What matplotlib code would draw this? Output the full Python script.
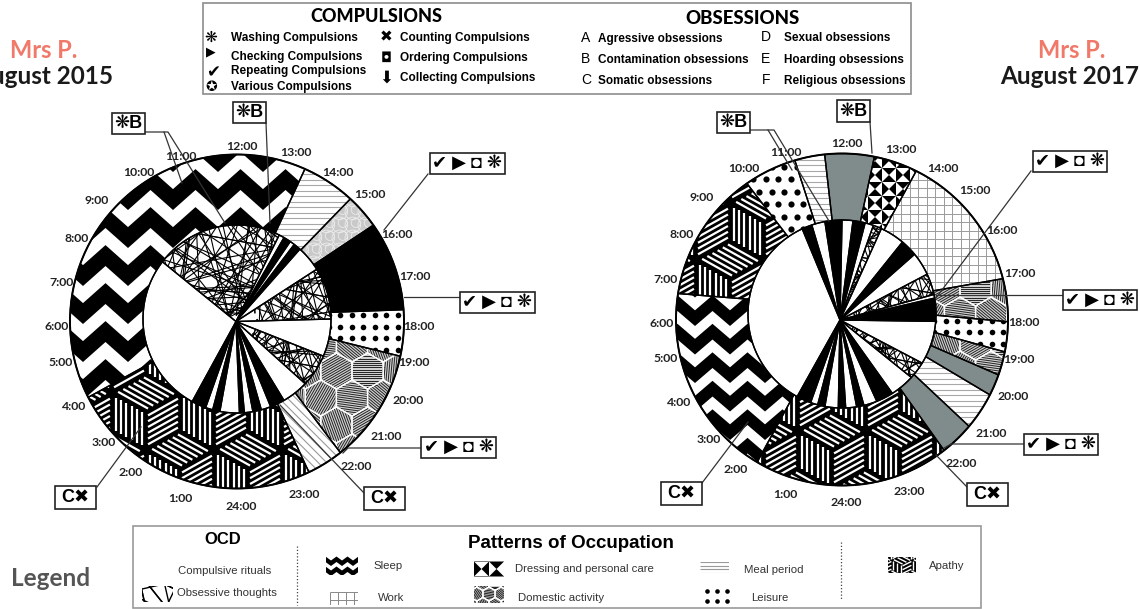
#Occupation wheels for Mrs P, 2015 vs 2017
import numpy as np
from matplotlib import pyplot as plt
from matplotlib.patches import Polygon, Rectangle, Circle
from matplotlib.collections import LineCollection, PolyCollection, PatchCollection

#Hours on the clock, 12:00 on top, 24:00 at the bottom, hours past 24 wrap to 1:00 etc
hour_labels = ['12:00','13:00','14:00','15:00','16:00','17:00','18:00','19:00','20:00','21:00','22:00','23:00',
               '24:00','1:00','2:00','3:00','4:00','5:00','6:00','7:00','8:00','9:00','10:00','11:00']
label_x = [242,296,338,370,397,415,419,414,408,386,356,304,241,180,131,104,74,61,57,61,77,97,139,181]
label_y = [147,153,172,194,234,277,326,363,400,437,467,495,506,498,473,443,406,362,327,283,238,201,172,156]

#Outer ring, occupation, edges in hours and what fills each piece
ring15_edges = [4.2,13.6,14.85,15.65,17.73,18.8,21.45,22.3,28.2]
ring15_kinds = ['sleep','meal','domestic_light','black','leisure','domestic','diag','apathy']
ring17_edges = [2.05,6.6,9.67,10.9,11.6,12.75,13.77,17.05,18.05,18.75,19.3,19.8,20.67,21.47,26.05]
ring17_kinds = ['sleep','apathy','leisure2','meal','gray','dressing','work','domestic','leisure','domestic',
                'gray','meal','gray','apathy']

#Inner pie, OCD
pie15_edges = [1.9,8.5,13.78,14.0,14.3,14.5,14.8,15.87,18.0,19.55,20.9,22.0,22.6,23.0,23.35,23.7,23.9,24.7,25.0,25.3,25.9]
pie15_kinds = ['white','obs','white','black','white','black','white','obs','white','obs','white','black','white',
               'black','white','black','white','black','white','black']
pie17_edges = [1.9,10.33,10.75,11.3,12.0,12.45,12.95,13.3,13.65,14.67,15.37,16.33,17.2,17.35,18.3,20.1,20.83,21.84,
               22.55,23.1,23.4,23.85,24.15,24.7,25.0,25.3,25.9]
pie17_kinds = ['white','black','white','black','white','black','white','obs','white','black','white','obs','white',
               'black','white','obs','white','black','white','black','white','black','white','black','white','black']

top_left = ['Washing Compulsions','Checking Compulsions','Repeating Compulsions','Various Compulsions']
top_mid = ['Counting Compulsions','Ordering Compulsions','Collecting Compulsions']
obs_left = ['Agressive obsessions','Contamination obsessions','Somatic obsessions']
obs_right = ['Sexual obsessions','Hoarding obsessions','Religious obsessions']

fig = plt.figure(figsize=(11.4,6.09),dpi=100)
ax = fig.add_axes([0,0,1,1])
ax.set_xlim(0,1140)
ax.set_ylim(609,0)
ax.axis('off')
ax.autoscale(False)

def hour_xy(c,r,h):
    a = np.radians((np.asarray(h)-12)*15)
    return np.column_stack([c[0]+r*np.sin(a),c[1]-r*np.cos(a)])

def clipped(artist,clip):
    ax.add_collection(artist)
    artist.set_clip_path(clip)
    artist.set_zorder(clip.get_zorder()+0.1)

def lines(segs,clip,color='black',lw=1.0):
    clipped(LineCollection(segs,colors=color,linewidths=lw),clip)

def box_of(clip):
    xy = clip.get_xy()
    return xy[:,0].min(),xy[:,0].max(),xy[:,1].min(),xy[:,1].max()

def tex_chevron(clip,x0,y0,period,pitch,amp):
    x1,x2,y1,y2 = box_of(clip)
    xs = x0+period/2*np.arange(np.floor((x1-x0)/(period/2))-2,np.ceil((x2-x0)/(period/2))+3)
    odd = np.round((xs-x0)/(period/2)).astype(int)%2
    zig = -amp*odd
    polys = []
    for k in range(int((y1-y0)//pitch)-2,int((y2-y0)//pitch)+4):
        low = y0+k*pitch+zig
        polys.append(np.vstack([np.column_stack([xs,low]),np.column_stack([xs,low-pitch*0.55])[::-1]]))
    clipped(PolyCollection(polys,facecolors='black',edgecolors='none'),clip)

def tex_cubes(clip,ox,oy,hw,e,n=6,lw=1.6):
    x1,x2,y1,y2 = box_of(clip)
    clip.set_facecolor('black')
    segs = []
    for row in range(-14,15):
        cy = oy+row*1.5*e
        if cy<y1-2*e or cy>y2+2*e:
            continue
        for col in range(-14,15):
            cx = ox+(col*2+(row%2))*hw
            if cx<x1-2*hw or cx>x2+2*hw:
                continue
            c = np.array([cx,cy])
            faces = [(c+[-hw,-e/2],np.array([hw,e/2]),np.array([hw,-e/2])),
                     (c+[-hw,-e/2],np.array([0,e]),np.array([hw,e/2])),
                     (c+[0,e],np.array([hw,-e/2]),np.array([0,-e]))]
            for p,a,b in faces:
                for t in np.linspace(0.12,0.88,n):
                    segs.append([p+t*b+0.06*a,p+t*b+0.94*a])
    lines(segs,clip,'white',lw)

def tex_hex(clip,ox,oy,r,step=2.2):
    x1,x2,y1,y2 = box_of(clip)
    clip.set_facecolor('#d0d0d0')
    w = r*np.sqrt(3)
    segs = []
    outline = []
    angles = [8,95,150,40,120,0,70]
    for row in range(-14,15):
        cy = oy+row*1.5*r
        if cy<y1-2*r or cy>y2+2*r:
            continue
        for col in range(-14,15):
            cx = ox+(col+(row%2)/2)*w
            if cx<x1-2*r or cx>x2+2*r:
                continue
            ang = np.radians(angles[(col*3+row*2)%7])
            u = np.array([np.cos(ang),np.sin(ang)])
            v = np.array([-u[1],u[0]])
            R = 0.93*r
            for d in np.arange(-R,R,step):
                half = np.sqrt(R*R-d*d)
                segs.append([[cx,cy]+v*d-u*half,[cx,cy]+v*d+u*half])
            t = np.radians(30+60*np.arange(7))
            outline.append(np.column_stack([cx+r*np.cos(t),cy+r*np.sin(t)]))
    lines(segs,clip,'#222222',0.7)
    lines(outline,clip,'white',1.0)

def tex_hlines(clip,step=5.5,color='#a8a8a8',lw=0.8):
    x1,x2,y1,y2 = box_of(clip)
    lines([[[x1,y],[x2,y]] for y in np.arange(y1,y2,step)],clip,color,lw)

def tex_grid(clip,step=8.5,color='#9a9a9a',lw=0.7):
    x1,x2,y1,y2 = box_of(clip)
    segs = [[[x1,y],[x2,y]] for y in np.arange(y1,y2,step)]
    segs += [[[x,y1],[x,y2]] for x in np.arange(x1,x2,step)]
    lines(segs,clip,color,lw)

def tex_diag(clip,step=6,color='#999999',lw=0.8):
    x1,x2,y1,y2 = box_of(clip)
    h = y2-y1
    lines([[[x,y1],[x+h,y2]] for x in np.arange(x1-h,x2,step*1.4)],clip,color,lw)

def tex_dots(clip,step,r,stagger=False,xoff=0):
    x1,x2,y1,y2 = box_of(clip)
    xs,ys = [],[]
    for i,y in enumerate(np.arange(y1+step/2,y2,step)):
        off = step/2 if (stagger and i%2) else 0
        for x in np.arange(x1+off+xoff,x2+step,step):
            xs.append(x)
            ys.append(y)
    sc = ax.scatter(xs,ys,s=(2*r*0.72)**2,c='black',linewidths=0)
    sc.set_clip_path(clip)
    sc.set_zorder(clip.get_zorder()+0.1)

def tex_dressing(clip,s=14,ox=0,oy=0):
    x1,x2,y1,y2 = box_of(clip)
    polys = []
    for i in range(int((x1-ox)//s)-1,int((x2-ox)//s)+2):
        for j in range(int((y1-oy)//s)-1,int((y2-oy)//s)+2):
            a = np.array([ox+i*s,oy+j*s])
            pts = [a,a+[s,0],a+[s,s],a+[0,s]]
            m = a+[s/2,s/2]
            if (i+j)%2:
                polys += [[pts[0],pts[1],m],[pts[2],pts[3],m]]
            else:
                polys += [[pts[1],pts[2],m],[pts[3],pts[0],m]]
    clipped(PolyCollection(polys,facecolors='black',edgecolors='none'),clip)

def tex_obs(clip,n=70,lw=0.8):
    #Tangle of chords, stepped through the points by fixed rules
    xy = clip.get_xy()
    c = xy.mean(axis=0)
    x1,x2,y1,y2 = box_of(clip)
    radius = 0.62*max(x2-x1,y2-y1)+8
    t = 2*np.pi*np.arange(n)/n
    pts = np.column_stack([c[0]+radius*np.cos(t),c[1]+radius*np.sin(t)])
    segs = [[pts[i],pts[(i*i+17*i+9)%n]] for i in range(n)]
    segs += [[pts[i],pts[(i*7+23)%n]] for i in range(n)]
    lines(segs,clip,'black',lw)

def tex_light(clip,step=13):
    x1,x2,y1,y2 = box_of(clip)
    clip.set_facecolor('#c9c9c9')
    rings = []
    for x in np.arange(x1,x2,step):
        for y in np.arange(y1,y2,step):
            rings += [Circle((x,y),step*0.6),Circle((x+3,y-2),step*0.35)]
    clipped(PatchCollection(rings,facecolor='none',edgecolor='#ececec',linewidth=0.6),clip)

def fill_piece(poly,kind,patt,edge=True):
    clip = Polygon(poly,closed=True,fc='white',ec='none',zorder=2)
    ax.add_patch(clip)
    if kind=='black':
        clip.set_facecolor('black')
    elif kind=='gray':
        clip.set_facecolor('#808b8b')
    elif kind=='sleep':
        tex_chevron(clip,*patt['sleep'])
    elif kind=='apathy':
        tex_cubes(clip,*patt['apathy'])
    elif kind=='domestic':
        tex_hex(clip,*patt['hex'])
    elif kind=='domestic_light':
        tex_light(clip)
    elif kind=='meal':
        tex_hlines(clip)
    elif kind=='work':
        tex_grid(clip)
    elif kind=='diag':
        tex_diag(clip)
    elif kind=='leisure':
        tex_dots(clip,11.5,2.8)
    elif kind=='leisure2':
        tex_dots(clip,12.5,3.1,True)
    elif kind=='dressing':
        tex_dressing(clip)
    elif kind=='obs':
        tex_obs(clip)
    if edge:
        ax.add_patch(Polygon(poly,closed=True,fc='none',ec='black',lw=1.0,zorder=3))

def draw_wheel(c,c_in,c_pie,r_out,r_in,ring_edges,ring_kinds,pie_edges,pie_kinds,patt):
    for h0,h1,kind in zip(ring_edges[:-1],ring_edges[1:],ring_kinds):
        hs = np.linspace(h0,h1,max(int((h1-h0)*12),2))
        poly = np.vstack([hour_xy(c,r_out,hs),hour_xy(c_in,r_in,hs[::-1])])
        fill_piece(poly,kind,patt)
    for h0,h1,kind in zip(pie_edges[:-1],pie_edges[1:],pie_kinds):
        hs = np.linspace(h0,h1,max(int((h1-h0)*12),2))
        poly = np.vstack([[c_pie],hour_xy(c_in,r_in,hs)])
        fill_piece(poly,kind,patt)
    ax.add_patch(Circle(c,r_out,fc='none',ec='black',lw=1.4,zorder=4))

patt15 = {'sleep':(218,172,45,38,20),'apathy':(146,412,34,38),'hex':(352,398,18)}
patt17 = {'sleep':(730,440,35,28.5,15),'apathy':(832,450,34,38),'hex':(960,315,18)}
draw_wheel((237,321.5),(237,319),(236,321.5),167,94,ring15_edges,ring15_kinds,pie15_edges,pie15_kinds,patt15)
draw_wheel((842,319.5),(842,314),(840,320),166,94,ring17_edges,ring17_kinds,pie17_edges,pie17_kinds,patt17)

#Hour labels, 2017 wheel is the same layout moved over
for txt,x,y in zip(hour_labels,label_x,label_y):
    ax.text(x,y,txt,fontsize=8.8,family='Lato',weight='bold',color='#222222',ha='center',va='center',zorder=6)
    ax.text(x+605,y-3.5,txt,fontsize=8.8,family='Lato',weight='bold',color='#222222',ha='center',va='center',zorder=6)

def tag(x1,y1,x2,y2,txt,size=13):
    ax.add_patch(Rectangle((x1,y1),x2-x1,y2-y1,fc='white',ec='#222222',lw=1.2,zorder=7))
    ax.text((x1+x2)/2,(y1+y2)/2,txt,fontsize=size,family=['Liberation Sans','DejaVu Sans'],weight='bold',
            ha='center',va='center',zorder=8)

def leader(*pts,lw=0.9):
    p = np.array(pts)
    ax.plot(p[:,0],p[:,1],color='#333333',lw=lw,zorder=5)

marks = '\u2714 \u25b6 \u25d8 \u274b'
wash = '\u274bB'
count = 'C\u2716'

tag(112,113,145,134,wash)
tag(233,102,266,123,wash)
tag(430,153,505,174,marks)
tag(460,292,535,313,marks)
tag(421,437,496,458,marks)
tag(55,486,96,509,count)
tag(364,487,405,510,count)
leader((145,132),(168,132),(225,223))
leader((164,132),(182,183))
leader((266,123),(270,223))
leader((428,174),(384,230))
leader((460,297),(404,297))
leader((421,448),(348,448),(343,453))
leader((97,487),(141,427))
leader((364,493),(280,405))

tag(717,112,750,133,wash)
tag(837,100,870,122,wash)
tag(1033,151,1107,172,marks)
tag(1063,290,1137,310,marks)
tag(1024,434,1098,455,marks)
tag(661,482,702,505,count)
tag(967,483,1008,506,count)
leader((750,130),(774,130),(829,221))
leader((768,130),(792,170))
leader((870,122),(872,153))
leader((1031,171),(936,298))
leader((1063,295),(936,295))
leader((1024,444),(951,444),(944,448))
leader((702,483),(748,422))
leader((967,487),(936,455))

#Titles at the sides, the left one runs off the page like the source
ax.text(44,51,'Mrs P.',fontsize=17,family='Lato',weight='bold',color='#f0796a',ha='center',va='center')
ax.text(44,77,'August 2015',fontsize=17.5,family='Lato',weight='bold',color='#1a1a1a',ha='center',va='center')
ax.text(1072,51,'Mrs P.',fontsize=17,family='Lato',weight='bold',color='#f0796a',ha='center',va='center')
ax.text(1070,77,'August 2017',fontsize=17.5,family='Lato',weight='bold',color='#1a1a1a',ha='center',va='center')

#Top key
ax.add_patch(Rectangle((203,3),708,91,fc='white',ec='#8c8c8c',lw=1.2))
ax.text(376,17,'COMPULSIONS',fontsize=13,family='Lato',weight='black',ha='center',va='center')
ax.text(743,18,'OBSESSIONS',fontsize=13.4,family='Lato',weight='black',ha='center',va='center')
sans = ['Liberation Sans','DejaVu Sans']
for txt,y in zip(top_left,[38,57,71,87]):
    ax.text(231,y,txt,fontsize=8.5,family=sans,weight='bold',va='center')
for txt,y in zip(top_mid,[38,58,78]):
    ax.text(400,y,txt,fontsize=8.5,family=sans,weight='bold',va='center')
for sym,x,y,s in [('\u274b',211,37,11),('\u25b6',211,52,9),('\u2714',213,72,12),('\u272a',211,87,10),
                  ('\u2716',386,37,11),('\u25d8',386,58,10),('\u2b07',386,78,12)]:
    ax.text(x,y,sym,fontsize=s,family='DejaVu Sans',ha='center',va='center')
for let,txt,y in zip('ABC',obs_left,[39,60,81]):
    ax.text(586,y-1,let,fontsize=10,family='Liberation Sans',ha='center',va='center')
    ax.text(598,y,txt,fontsize=8.5,family=sans,weight='bold',va='center')
for let,txt,y in zip('DEF',obs_right,[38,60,81]):
    ax.text(766,y-1,let,fontsize=10,family='Liberation Sans',ha='center',va='center')
    ax.text(784,y,txt,fontsize=8.5,family=sans,weight='bold',va='center')

#Bottom legend
ax.text(11,578,'Legend',fontsize=17.5,family='Lato',weight='bold',color='#555555',va='center')
ax.add_patch(Rectangle((133,526),848,82,fc='white',ec='#999999',lw=1.2))
ax.text(223,540,'OCD',fontsize=12,family='Liberation Sans',weight='bold',ha='center',va='center')
ax.text(571,543,'Patterns of Occupation',fontsize=13.5,family='Liberation Sans',weight='bold',ha='center',va='center')
for x,y1,y2 in [(297,546,605),(841,542,600)]:
    ax.plot([x,x],[y1,y2],color='#444444',lw=0.9,ls=(0,(1,1.6)))

def swatch(x1,y1,x2,y2):
    p = Polygon([(x1,y1),(x2,y1),(x2,y2),(x1,y2)],closed=True,fc='white',ec='none',zorder=2)
    ax.add_patch(p)
    return p

tex_obs(swatch(142,586,173,602),n=14,lw=1.0)
tex_chevron(swatch(326,556,358,575),331,566,11,10,4)
tex_grid(swatch(330,592,358,605),step=8,color='#888888')
tex_dressing(swatch(474,561,504,577),s=15,ox=474,oy=561.5)
tex_hex(swatch(474,586,504,603),489,594,7,step=1.6)
tex_hlines(swatch(700,562,729,573),step=3.5,color='#999999')
tex_dots(swatch(703,586,733,606),10,2.3,xoff=4)
tex_cubes(swatch(888,557,916,573),902,565,10,10,n=3,lw=1.0)

legend_text = [(224.5,571,'Compulsive rituals','center'),(177,593,'Obsessive thoughts','left'),(373,566,'Sleep','left'),
               (378,598,'Work','left'),(515,569,'Dressing and personal care','left'),(518,598,'Domestic activity','left'),
               (744,570,'Meal period','left'),(751,598,'Leisure','left'),(929,566,'Apathy','left')]
for x,y,txt,ha in legend_text:
    ax.text(x,y,txt,fontsize=8.2,family='Liberation Sans',color='#333333',ha=ha,va='center')

fig.savefig('out.png',dpi=100,facecolor='white')
